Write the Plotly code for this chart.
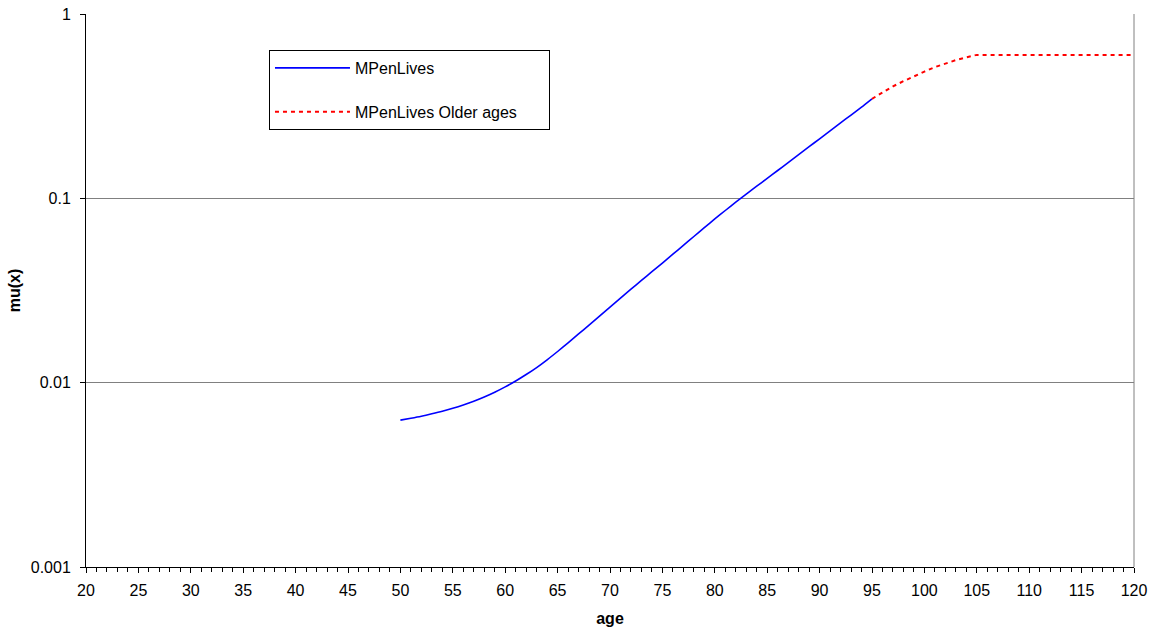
import plotly.graph_objects as go

# Force of mortality mu(x), ages 50-95 (fitted table)
ages_main = list(range(50, 96))
mu_main = [
    0.006266, 0.006412, 0.006577, 0.006776, 0.006998, 0.007261, 0.007568, 0.007925,
    0.008356, 0.008872, 0.009484, 0.01021, 0.01107, 0.01208, 0.01331, 0.01476,
    0.01644, 0.01837, 0.02051, 0.02296, 0.02570, 0.02877, 0.03214, 0.03589,
    0.03999, 0.04457, 0.04977, 0.05559, 0.06209, 0.06934, 0.07727, 0.08590,
    0.09529, 0.1054, 0.1164, 0.1282, 0.1416, 0.1563, 0.1726, 0.1906,
    0.2104, 0.2323, 0.2565, 0.2831, 0.3126, 0.3467,
]

# Extension to older ages, levelling off from 105
ages_old = list(range(95, 121))
mu_old = [
    0.3467, 0.375, 0.405, 0.432, 0.460, 0.487, 0.515, 0.540, 0.562, 0.582, 0.600,
    0.600, 0.600, 0.600, 0.600, 0.600, 0.600, 0.600, 0.600, 0.600, 0.600,
    0.600, 0.600, 0.600, 0.600, 0.600,
]

y_tickvals = [0.001, 0.01, 0.1, 1]
y_ticktext = ["0.001", "0.01", "0.1", "1"]

FONT = "Liberation Sans, Arial, sans-serif"
PAD = "\u00a0" * 6  # extra room on the right of the legend box

fig = go.Figure()
fig.add_trace(go.Scatter(
    x=ages_main, y=mu_main, mode="lines", name="MPenLives",
    line=dict(color="#0000ff", width=1.6, shape="spline", smoothing=0.6),
    legendgroup="a",
))
fig.add_trace(go.Scatter(
    x=ages_old, y=mu_old, mode="lines", name="MPenLives Older ages" + PAD,
    line=dict(color="#ff0000", width=2, dash="4px,4px"), legendgroup="b",
))

fig.update_layout(
    width=1154, height=632,
    margin=dict(l=86, r=20, t=14, b=65),
    paper_bgcolor="white", plot_bgcolor="white",
    font=dict(family=FONT, size=16, color="black"),
    showlegend=True,
    legend=dict(
        x=0.1746, y=0.935, xanchor="left", yanchor="top",
        bordercolor="black", borderwidth=1, bgcolor="white",
        tracegroupgap=20, font=dict(size=16),
        itemwidth=75,
    ),
    xaxis=dict(
        range=[20, 120], dtick=5, tick0=20, automargin=False,
        showline=True, linecolor="black", linewidth=1,
        ticks="outside", ticklen=5, tickcolor="black",
        tickfont=dict(size=16), ticklabelstandoff=4,
        minor=dict(dtick=1, ticks="outside", ticklen=4, tickcolor="black"),
        showgrid=False, zeroline=False,
        title=dict(text="<b>age</b>", font=dict(size=16), standoff=14),
    ),
    yaxis=dict(
        type="log", range=[-3, 0], automargin=False,
        tickvals=y_tickvals, ticktext=y_ticktext,
        showline=True, linecolor="black", linewidth=1,
        ticks="outside", ticklen=5, tickcolor="black",
        tickfont=dict(size=16), ticklabelstandoff=6,
        showgrid=True, gridcolor="#808080", gridwidth=1,
        zeroline=False,
        title=dict(text="<b>mu(x)</b>", font=dict(size=16), standoff=6),
    ),
    shapes=[
        dict(type="line", xref="paper", yref="paper", x0=1, x1=1, y0=0, y1=1,
             line=dict(color="#808080", width=1)),
    ],
)

fig.write_html("out.html")
